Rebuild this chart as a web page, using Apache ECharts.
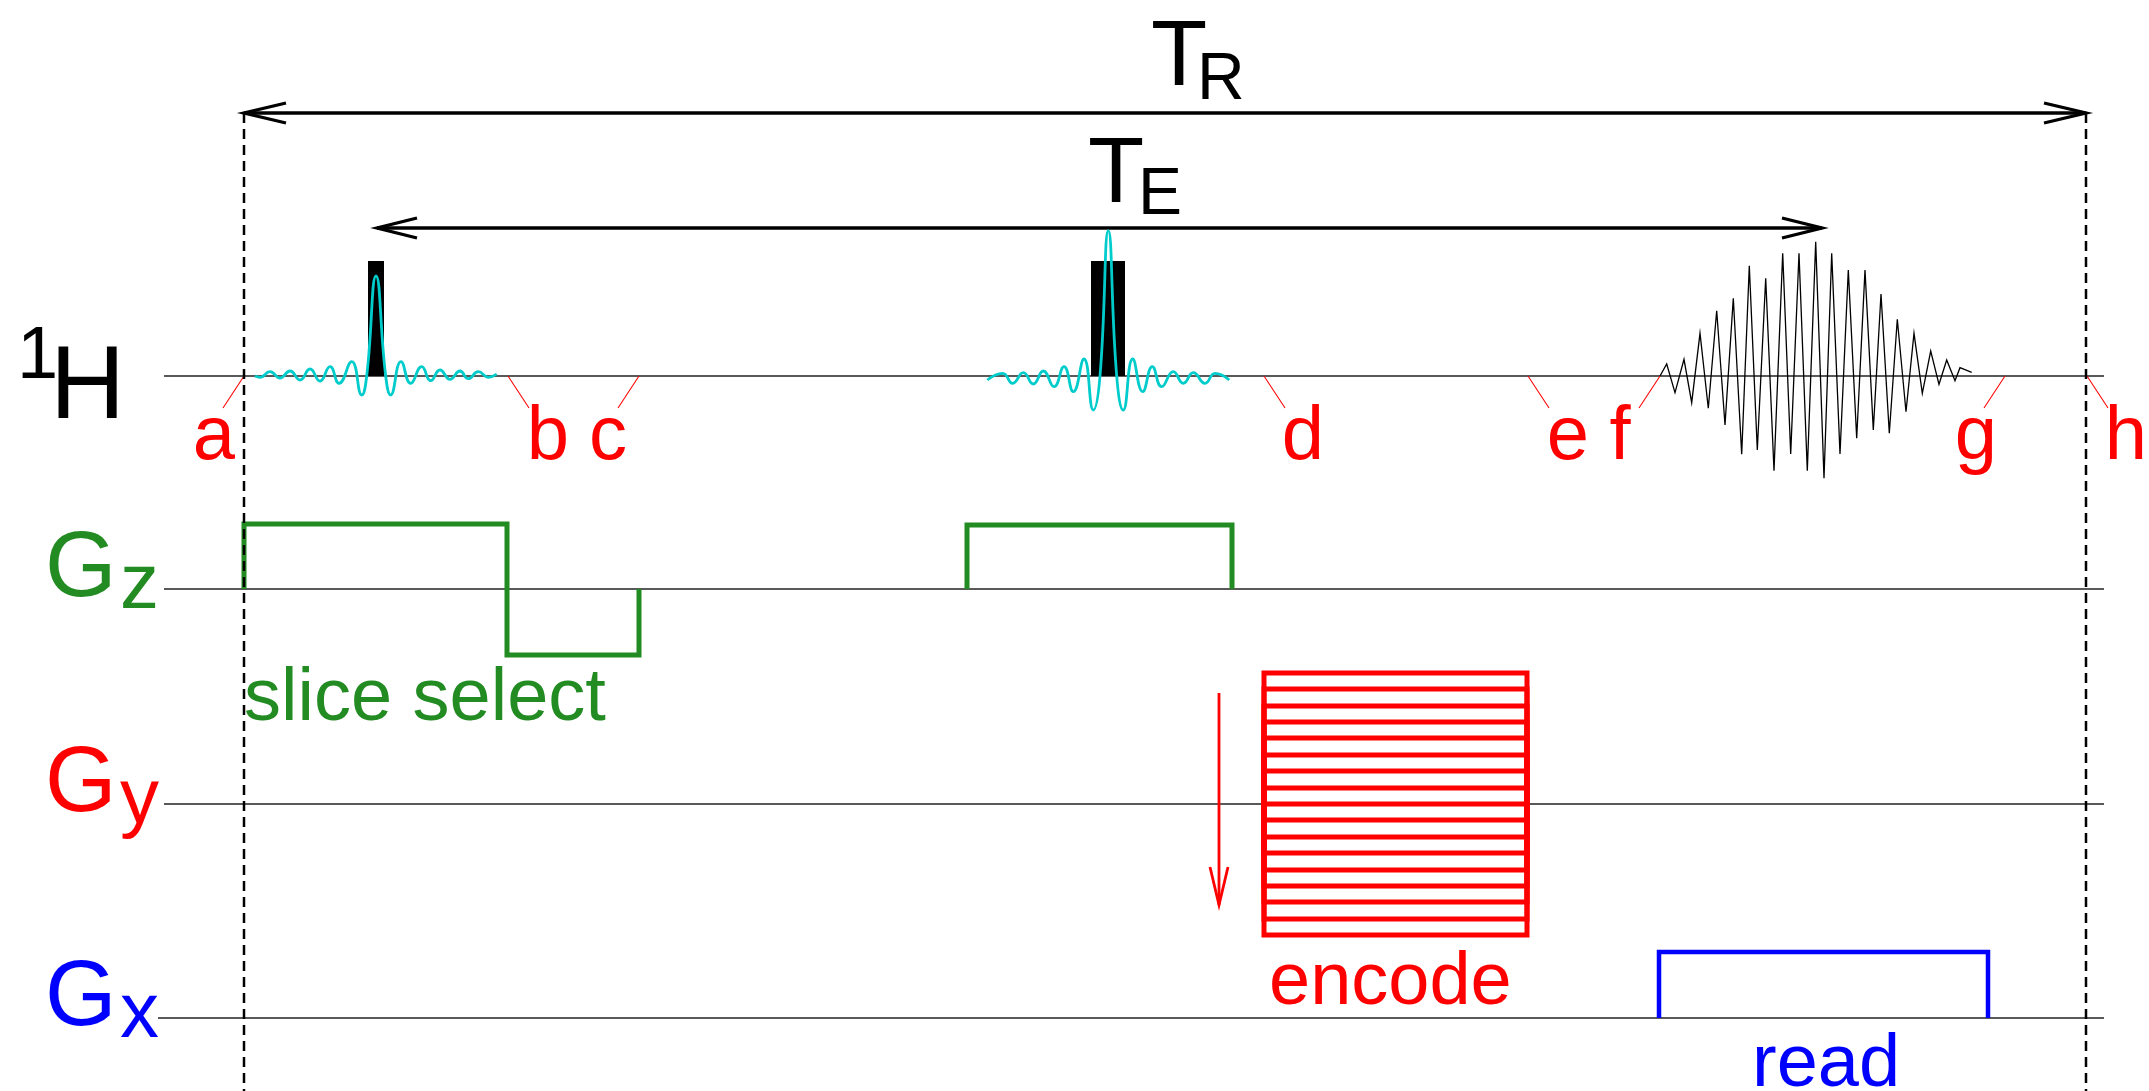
<!DOCTYPE html>
<html><head><meta charset="utf-8">
<script src="https://cdn.jsdelivr.net/npm/echarts@6/dist/echarts.min.js"></script>
<style>html,body{margin:0;padding:0;background:#fff;}#c{width:2149px;height:1091px;}</style>
</head><body><div id="c"></div>
<script>
// ---------------- DATA (time axis in arbitrary units, amplitudes relative to each row's baseline) ----
const rowNames = ['1H', 'Gz', 'Gy', 'Gx'];
const trSpan = [244, 2086];          // repetition time start / end
const teSpan = [377, 1822];          // echo time arrow start / end
// RF pulses (hard-pulse boxes)
const rfStart = [368, 1091];
const rfEnd = [384, 1125];
const rfHeight = [115, 115];
// sinc envelope of 90° pulse (extrema)
const sinc1T = [255, 260, 270, 280, 290, 300, 310, 320, 330, 339, 351.7, 361.7, 366.7, 376, 385.7, 390.7, 401, 410.7, 421.7, 430.7, 440, 450, 460, 468.3, 478.3, 488.3, 496.7];
const sinc1A = [0, -1.3, 4.3, -2, 5, -4, 7, -5, 9.3, -7.3, 14.3, -19, 0, 100, 0, -19, 14.3, -7.3, 9.3, -4.7, 6, -3.3, 5, -2.7, 4.3, -1.3, 2];
// sinc envelope of 180° pulse
const sinc2T = [987.3, 1002.7, 1012.7, 1023.3, 1033.3, 1043.3, 1054, 1064, 1073.3, 1084, 1093.3, 1100, 1108.3, 1116.7, 1123.3, 1132.7, 1142.7, 1152.3, 1161.7, 1173.3, 1183.3, 1193.3, 1205, 1215, 1229.3];
const sinc2A = [-4, 2.7, -7.3, 3.3, -8, 5, -10.7, 9.3, -15.7, 17, -34, 0, 145.3, 0, -34, 17, -15.7, 9.3, -10.7, 4.3, -7.3, 3.3, -7.3, 2.7, -4];
// echo signal
const echoT = [1660, 1666.7, 1675, 1684, 1691.7, 1700, 1708.3, 1716.7, 1725, 1733.3, 1741.7, 1749.3, 1757.3, 1765.7, 1774, 1782.7, 1790.7, 1799, 1807.3, 1815.7, 1824, 1831.7, 1840, 1848.3, 1856.7, 1865, 1873.3, 1881, 1889.3, 1897.3, 1906, 1914, 1922.3, 1930.7, 1939, 1946.7, 1955, 1960, 1971.7];
const echoA = [0, 12, -16.7, 16.7, -26.7, 42.7, -32.3, 65.3, -49, 77.7, -78.3, 110.3, -74, 97.7, -94.7, 122.7, -78, 122.7, -94.7, 134.3, -102.3, 122.7, -78, 106, -62.3, 106, -54, 82, -57.3, 56.7, -35.7, 42.7, -17.3, 25, -8.3, 16, -4.7, 8.3, 3.7];
// slice-select gradient
const gz1T = [244, 244, 507, 507, 639, 639];
const gz1A = [0, 65, 65, -66, -66, 0];
const gz2T = [967, 967, 1232, 1232];
const gz2A = [0, 64, 64, 0];
// phase-encode gradient table
const gyT = [1264, 1527];
const gyLevels = [131, 115, 98, 82, 66, 49, 33, 16, 0, -16, -33, -49, -66, -82, -98, -115, -131];
// readout gradient
const gxT = [1659, 1659, 1988, 1988];
const gxA = [0, 66, 66, 0];
// event markers
const eventT = [244, 508, 639, 1264, 1528, 1660, 2005, 2087];
const eventLabels = ['a', 'b', 'c', 'd', 'e', 'f', 'g', 'h'];
const eventDir = [-1, 1, -1, 1, 1, -1, -1, 1];

// ---------------- LAYOUT ----------------
const W = 2149, H = 1091;
const rowBase = [376, 589, 804, 1018];
const baseStart = [164, 164, 164, 158];
const baseEnd = 2104;
const trY = 113, teY = 228, dashBottom = 1091;
const leaderDx = 21, leaderDy = 32;
const labelShift = [-30, 40, -31, 39, 40, -40, -29, 39];
const letterBaseline = 457;
const FONT = "'Liberation Sans', Arial, Helvetica, sans-serif";
const GREEN = '#228B22', RED = '#FF0000', BLUE = '#0000FF', CYAN = '#00CCCC';
const gyArrow = { t: 1219, from: 111, to: -101 };
const BASELINE_K = 0.25;

function pts(T, A, row) { return T.map((t, i) => [t, rowBase[row] - A[i]]); }
function line(data, color, width, extra) {
  return Object.assign({
    type: 'line', data: data, symbol: 'none', silent: true, animation: false,
    lineStyle: { color: color, width: width, cap: 'butt', join: 'miter' }, z: 3
  }, extra || {});
}
function headH(tipX, tipY, dir, L, Wd) { return [[tipX - dir * L, tipY - Wd], [tipX, tipY], [tipX - dir * L, tipY + Wd]]; }
function headV(tipX, tipY, dir, L, Wd) { return [[tipX - Wd, tipY - dir * L], [tipX, tipY], [tipX + Wd, tipY - dir * L]]; }

const series = [];
// baselines
rowBase.forEach((b, r) => series.push(line([[baseStart[r], b], [baseEnd, b]], '#222', 1.3, { z: 1 })));
// dashed TR lines
trSpan.forEach(t => series.push(line([[t, trY], [t, dashBottom]], '#000', 2.5, { z: 6, lineStyle: { color: '#000', width: 2.5, type: [10, 6] } })));
// TR arrow
series.push(line([[trSpan[0], trY], [trSpan[1], trY]], '#000', 3.3));
series.push(line(headH(trSpan[0], trY, -1, 42, 10), '#000', 3.3));
series.push(line(headH(trSpan[1], trY, 1, 42, 10), '#000', 3.3));
// TE arrow
series.push(line([[teSpan[0], teY], [teSpan[1], teY]], '#000', 3.3));
series.push(line(headH(teSpan[0], teY, -1, 40, 10), '#000', 3.3));
series.push(line(headH(teSpan[1], teY, 1, 40, 10), '#000', 3.3));
// RF boxes
series.push({
  type: 'custom', silent: true, animation: false, z: 2,
  data: rfStart.map((s, i) => [s, rfEnd[i], rowBase[0] - rfHeight[i], rowBase[0]]),
  renderItem: function (params, api) {
    const p0 = api.coord([api.value(0), api.value(2)]);
    const p1 = api.coord([api.value(1), api.value(3)]);
    return { type: 'rect', shape: { x: p0[0], y: p0[1], width: p1[0] - p0[0], height: p1[1] - p0[1] }, style: { fill: '#000' } };
  }
});
// sinc pulses
series.push(line(pts(sinc1T, sinc1A, 0), CYAN, 2.8, { smooth: 0.5, z: 4 }));
series.push(line(pts(sinc2T, sinc2A, 0), CYAN, 2.8, { smooth: 0.5, z: 4 }));
// echo
series.push(line(pts(echoT, echoA, 0), '#000', 1.3, { z: 4 }));
// Gz
series.push(line(pts(gz1T, gz1A, 1), GREEN, 5));
series.push(line(pts(gz2T, gz2A, 1), GREEN, 5));
// Gy table
gyLevels.forEach(a => series.push(line(pts([gyT[0], gyT[0], gyT[1], gyT[1]], [0, a, a, 0], 2), RED, 5)));
// Gy arrow
series.push(line([[gyArrow.t, rowBase[2] - gyArrow.from], [gyArrow.t, rowBase[2] - gyArrow.to]], RED, 2.8));
series.push(line(headV(gyArrow.t, rowBase[2] - gyArrow.to, 1, 38, 9), RED, 2.8));
// Gx
series.push(line(pts(gxT, gxA, 3), BLUE, 4.5));
// event leader lines
eventT.forEach((t, i) => series.push(line([[t, rowBase[0]], [t + eventDir[i] * leaderDx, rowBase[0] + leaderDy]], RED, 1.1, { z: 2 })));

// ---------------- TEXT ----------------
function txt(str, x, baseline, fs, color, align) {
  return {
    value: [x, baseline - BASELINE_K * fs],
    itemStyle: { opacity: 1 },
    label: { show: true, formatter: str, position: 'inside', align: align || 'left', verticalAlign: 'middle',
      fontSize: fs, lineHeight: fs, color: color, opacity: 1, textBorderWidth: 0, fontFamily: FONT, fontWeight: 'normal' }
  };
}
const texts = [
  txt('T', 1151, 83, 92, '#000'), txt('R', 1197, 97, 66, '#000'),
  txt('T', 1088, 200, 92, '#000'), txt('E', 1138, 212, 66, '#000'),
  txt('1', 17, 376, 74, '#000'), txt('H', 50, 415, 104, '#000'),
  txt('G', 45, rowBase[1] + 5, 92, GREEN), txt('z', 120, rowBase[1] + 17, 78, GREEN),
  txt('G', 45, rowBase[2] + 5, 92, RED), txt('y', 120, rowBase[2] + 17, 78, RED),
  txt('G', 45, rowBase[3] + 5, 92, BLUE), txt('x', 120, rowBase[3] + 17, 78, BLUE),
  txt('slice select', 244, 718, 74, GREEN),
  txt('encode', 1269, 1002, 74, RED),
  txt('read', 1752, 1084, 74, BLUE)
];
eventT.forEach((t, i) => texts.push(txt(eventLabels[i], t + labelShift[i], letterBaseline, 76, RED, 'center')));
series.push({
  type: 'scatter', silent: true, animation: false, symbolSize: 1,
  itemStyle: { color: 'rgba(0,0,0,0)', opacity: 1 },
  data: texts, z: 10
});

const chart = echarts.init(document.getElementById('c'), null, { renderer: 'canvas', width: W, height: H });
chart.setOption({
  backgroundColor: '#fff',
  animation: false,
  grid: { left: 0, right: 0, top: 0, bottom: 0 },
  xAxis: { type: 'value', min: 0, max: W, show: false },
  yAxis: { type: 'value', min: 0, max: H, inverse: true, show: false },
  series: series
});
</script>
</body></html>
